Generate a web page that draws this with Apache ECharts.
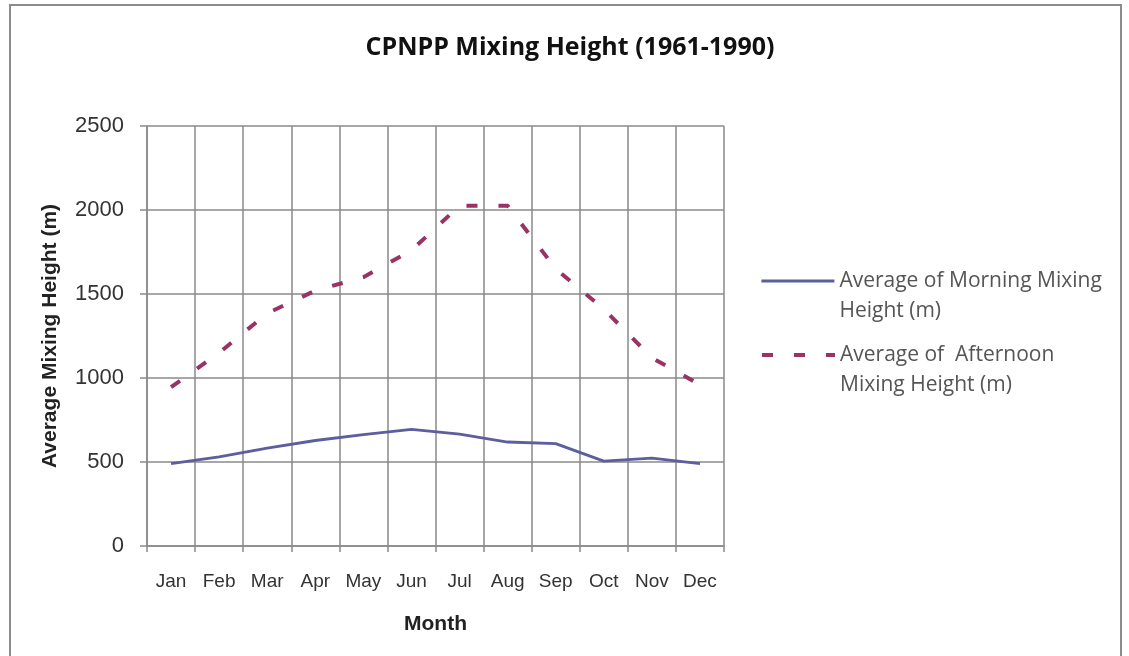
<!DOCTYPE html>
<html>
<head>
<meta charset="utf-8">
<script src="https://cdn.jsdelivr.net/npm/echarts@6/dist/echarts.min.js"></script>
<style>
html,body{margin:0;padding:0;background:#fff;}
#frame{position:absolute;left:9px;top:4px;width:1113px;height:700px;border:2px solid #8c8c8c;box-sizing:border-box;}
#chart{position:absolute;left:0;top:0;width:1129px;height:656px;}
</style>
</head>
<body>
<div id="frame"></div>
<div id="chart"></div>
<script>
const months = ['Jan','Feb','Mar','Apr','May','Jun','Jul','Aug','Sep','Oct','Nov','Dec'];
const morning = [490, 530, 583, 628, 663, 694, 666, 619, 609, 505, 523, 490];
const afternoon = [945, 1150, 1385, 1520, 1600, 1760, 2025, 2025, 1650, 1410, 1120, 960];
const yTicks = [0, 500, 1000, 1500, 2000, 2500];
const morningName = 'Average of Morning Mixing Height (m)';
const afternoonName = 'Average of  Afternoon Mixing Height (m)';
const legendText = {};
legendText[morningName] = ' \nAverage of Morning Mixing\nHeight (m)';
legendText[afternoonName] = ' \nAverage of  Afternoon\nMixing Height (m)';

const font = 'Liberation Sans';
const wideFont = 'Open Sans';
const gridColor = '#8a8a8a';
const morningColor = '#5c5e9e';
const afternoonColor = '#993366';

function legendFor(name, top, lineWidth) {
  return {
    orient: 'vertical', left: 760, top: top, padding: 0,
    itemWidth: 73, itemHeight: 14,
    itemStyle: {opacity: 0},
    lineStyle: {width: lineWidth},
    formatter: function (n) { return legendText[n]; },
    textStyle: {fontFamily: wideFont, fontSize: 21, color: '#555', lineHeight: 30},
    data: [name]
  };
}

const chart = echarts.init(document.getElementById('chart'), null, {renderer: 'canvas'});
chart.setOption({
  animation: false,
  backgroundColor: 'transparent',
  title: {
    text: 'CPNPP Mixing Height (1961-1990)',
    left: 565, top: 30, textAlign: 'center',
    textStyle: {fontFamily: wideFont, fontSize: 25, fontWeight: 'bold', color: '#111'}
  },
  grid: {left: 147, right: 405, top: 126, bottom: 110, containLabel: false},
  legend: [legendFor(morningName, 236, 2.8), legendFor(afternoonName, 310, 4)],
  xAxis: {
    type: 'category', data: months, boundaryGap: true,
    name: 'Month', nameLocation: 'middle', nameGap: 68,
    nameTextStyle: {fontFamily: font, fontSize: 21, fontWeight: 'bold', color: '#222'},
    axisLine: {show: true, lineStyle: {color: gridColor, width: 1.5}},
    axisTick: {show: true, length: 6, alignWithLabel: false, lineStyle: {color: gridColor, width: 1.5}},
    axisLabel: {fontFamily: font, fontSize: 19, color: '#333', margin: 26, interval: 0},
    splitLine: {show: true, interval: 0, lineStyle: {color: gridColor, width: 1.5}}
  },
  yAxis: {
    type: 'value', min: 0, max: 2500, interval: 500,
    name: 'Average Mixing Height (m)', nameLocation: 'middle', nameGap: 86,
    nameTextStyle: {fontFamily: font, fontSize: 21, fontWeight: 'bold', color: '#222'},
    axisLine: {show: true, lineStyle: {color: gridColor, width: 1.5}},
    axisTick: {show: true, length: 7, lineStyle: {color: gridColor, width: 1.5}},
    axisLabel: {fontFamily: font, fontSize: 22, color: '#333', margin: 23,
      formatter: function (v) { return yTicks.indexOf(v) >= 0 ? String(v) : ''; }},
    splitLine: {show: true, lineStyle: {color: gridColor, width: 1.5}}
  },
  series: [
    {
      name: morningName, type: 'line', data: morning,
      symbol: 'none', smooth: false,
      itemStyle: {color: morningColor},
      lineStyle: {color: morningColor, width: 2.8}
    },
    {
      name: afternoonName, type: 'line', data: afternoon,
      symbol: 'none', smooth: false,
      itemStyle: {color: afternoonColor},
      lineStyle: {color: afternoonColor, width: 4, type: [11, 21]}
    }
  ]
});
</script>
</body>
</html>
